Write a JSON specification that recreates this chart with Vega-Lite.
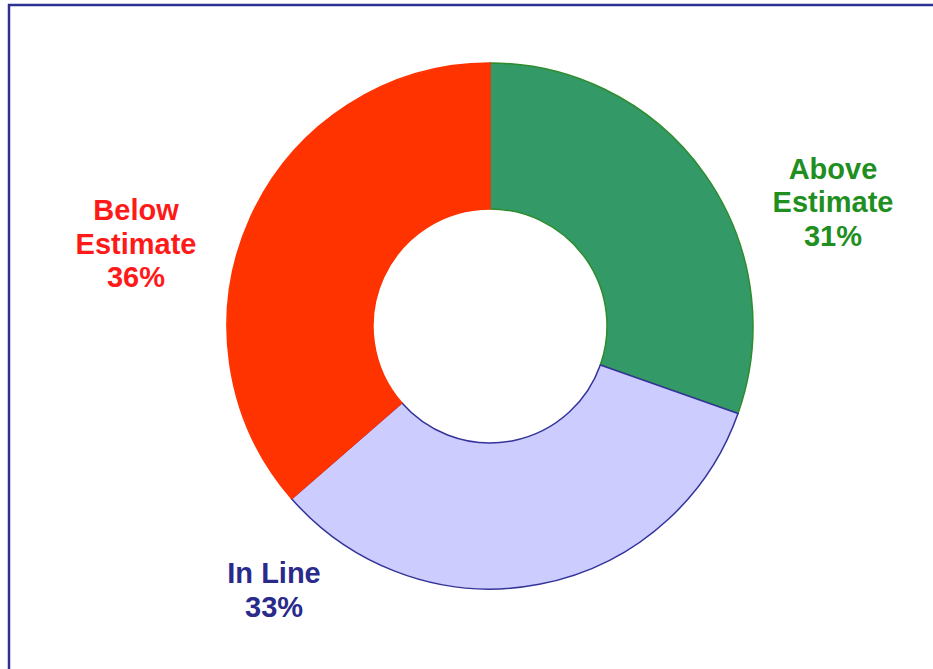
{
  "$schema": "https://vega.github.io/schema/vega-lite/v6.json",
  "width": 962,
  "height": 700,
  "autosize": {"type": "none"},
  "padding": {"left": 9, "top": 5, "right": 0, "bottom": 0},
  "background": "white",
  "view": {"stroke": "#2E3192", "strokeWidth": 2.5, "fill": "white"},
  "config": {"view": {"stroke": "#2E3192", "strokeWidth": 2.5}},
  "data": {
    "values": [
      {"category": "Above Estimate", "label": "Above\nEstimate\n31%", "value": 30.4, "rank": 1},
      {"category": "In Line", "label": "In Line\n33%", "value": 33.2, "rank": 2},
      {"category": "Below Estimate", "label": "Below\nEstimate\n36%", "value": 36.4, "rank": 3}
    ]
  },
  "layer": [
    {
      "mark": {"type": "arc", "innerRadius": 117, "outerRadius": 263, "strokeWidth": 1.5, "yOffset": -29},
      "encoding": {
        "theta": {"field": "value", "type": "quantitative", "stack": true},
        "order": {"field": "rank", "type": "quantitative"},
        "color": {
          "field": "category", "type": "nominal",
          "scale": {"domain": ["Above Estimate", "In Line", "Below Estimate"], "range": ["#339966", "#CCCCFF", "#FF3300"]},
          "legend": null
        },
        "stroke": {
          "field": "category", "type": "nominal",
          "scale": {"domain": ["Above Estimate", "In Line", "Below Estimate"], "range": ["#2E8B2E", "#333399", "#FF3300"]},
          "legend": null
        }
      }
    },
    {
      "mark": {"type": "text", "font": "Liberation Sans", "fontWeight": "bold", "fontSize": 29, "lineHeight": 33.5, "lineBreak": "\n", "align": "center", "baseline": "middle", "yOffset": -29},
      "encoding": {
        "text": {"field": "label"},
        "theta": {"field": "value", "type": "quantitative", "stack": null, "scale": {"domain": [30.4, 33.2, 36.4], "range": [1.1439, 3.858, 5.0265]}},
        "radius": {"field": "value", "type": "quantitative", "scale": {"type": "linear", "zero": false, "domain": [30.4, 33.2, 36.4], "range": [376.8, 328.9, 372.2]}},
        "color": {
          "field": "category", "type": "nominal",
          "scale": {"domain": ["Above Estimate", "In Line", "Below Estimate"], "range": ["#1F8F1F", "#2A2A8C", "#FF1A1A"]},
          "legend": null
        }
      }
    }
  ],
  "resolve": {"scale": {"color": "independent", "theta": "independent", "radius": "independent"}}
}
